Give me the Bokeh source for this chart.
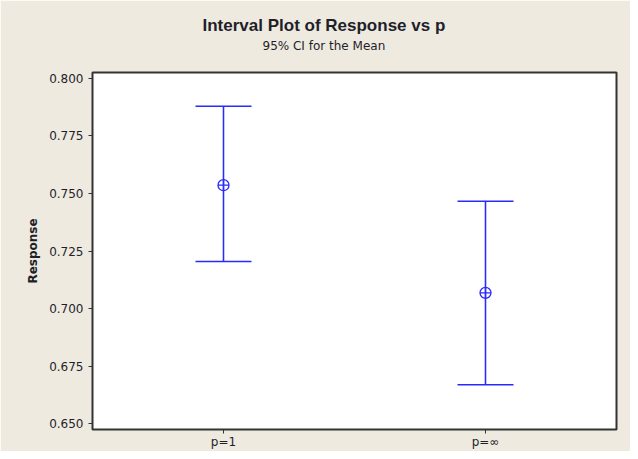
from bokeh.plotting import figure
from bokeh.models import ColumnDataSource, Whisker, TeeHead, FixedTicker, Title, Range1d
from bokeh.embed import file_html
from bokeh.resources import INLINE

# data
categories = ["p=1", "p=\u221e"]
means = [0.7536, 0.7068]
upper = [0.7879, 0.7466]
lower = [0.7204, 0.6669]
y_ticks = [0.650, 0.675, 0.700, 0.725, 0.750, 0.775, 0.800]

xs = [i + 1 for i in range(len(categories))]
src = ColumnDataSource(dict(x=xs, mean=means, upper=upper, lower=lower))

BG = "#EEEAE0"
BLUE = "#2a2aff"
TXT = "#1f1f2a"

p = figure(width=630, height=451, output_backend="svg", toolbar_location=None,
           x_range=Range1d(0.5, 2.5), y_range=Range1d(0.6474, 0.8026),
           min_border_left=92, min_border_right=14, min_border_top=72, min_border_bottom=19)
p.background_fill_color = "white"
p.border_fill_color = BG
p.outline_line_color = "#333333"
p.outline_line_width = 2
p.xgrid.visible = False
p.ygrid.visible = False

p.segment(x0="x", y0="lower", x1="x", y1="upper", source=src,
          line_color=BLUE, line_width=1.3)
w = Whisker(source=src, base="x", upper="upper", lower="lower", dimension="height",
            line_color=BLUE, line_width=1.3,
            upper_head=TeeHead(size=56, line_color=BLUE, line_width=1.5),
            lower_head=TeeHead(size=56, line_color=BLUE, line_width=1.5))
p.add_layout(w)
p.scatter("x", "mean", source=src, marker="circle_cross", size=11,
          fill_color=None, line_color=BLUE, line_width=1.3)

# axes
p.xaxis.ticker = FixedTicker(ticks=xs)
p.xaxis.major_label_overrides = {x: c for x, c in zip(xs, categories)}
p.yaxis.ticker = FixedTicker(ticks=y_ticks)
p.yaxis.major_label_overrides = {t: f"{t:.3f}" for t in y_ticks}
for ax in (p.xaxis, p.yaxis):
    ax.minor_tick_line_color = None
    ax.major_tick_in = 0
    ax.major_tick_out = 4
    ax.major_tick_line_color = "#333333"
    ax.axis_line_color = "#333333"
    ax.major_label_text_font = "DejaVu Sans"
    ax.major_label_text_font_size = "12px"
    ax.major_label_text_color = TXT
p.yaxis.major_label_standoff = 5
p.xaxis.major_label_standoff = 1

p.yaxis.axis_label = "Response"
p.yaxis.axis_label_text_font = "DejaVu Sans"
p.yaxis.axis_label_text_font_style = "bold"
p.yaxis.axis_label_text_font_size = "12px"
p.yaxis.axis_label_text_color = TXT
p.yaxis.axis_label_standoff = 6

# subtitle first (closest to frame), then main title
p.add_layout(Title(text="95% CI for the Mean", align="left", offset=170,
                   text_font="DejaVu Sans", text_font_style="normal",
                   text_font_size="12px", text_color=TXT, standoff=40), "above")
p.add_layout(Title(text="Interval Plot of Response vs p", align="left", offset=110,
                   text_font="Liberation Sans", text_font_style="bold",
                   text_font_size="17px", text_color=TXT, standoff=-37), "above")

open("out.html", "w").write(file_html(p, INLINE))
